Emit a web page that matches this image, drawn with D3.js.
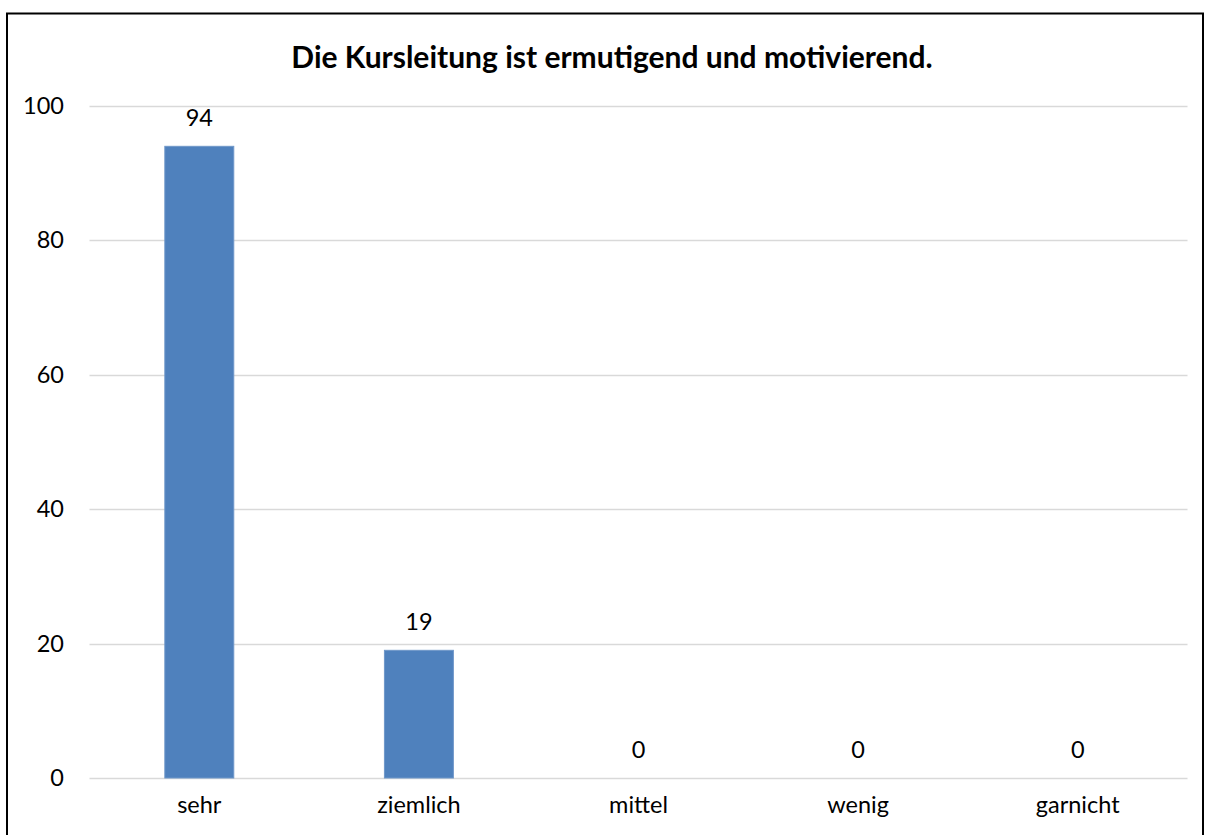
<!DOCTYPE html>
<html>
<head>
<meta charset="utf-8">
<script src="https://cdn.jsdelivr.net/npm/d3@7"></script>
<style>
  body { margin: 0; background: #fff; overflow: hidden; }
  text { font-family: Lato, "Open Sans", sans-serif; fill: #000; }
</style>
</head>
<body>
<script>
var title = "Die Kursleitung ist ermutigend und motivierend.";
var categories = ["sehr", "ziemlich", "mittel", "wenig", "garnicht"];
var counts = [94, 19, 0, 0, 0];
var yTicks = [0, 20, 40, 60, 80, 100];

var width = 1205,
    height = 835,
    plotLeft = 89.5,
    plotRight = 1187.5,
    plotTop = 106,
    plotBottom = 778,
    labelSize = 23.5;

var svg = d3.select("body").append("svg")
    .attr("width", width)
    .attr("height", height);

// frame
svg.append("rect")
    .attr("x", 7)
    .attr("y", 13.5)
    .attr("width", 1196)
    .attr("height", 840)
    .attr("fill", "none")
    .attr("stroke", "#000")
    .attr("stroke-width", 2);

var x = d3.scaleBand()
    .domain(categories)
    .range([plotLeft, plotRight])
    .paddingInner(0.686)
    .paddingOuter(0.343);

var y = d3.scaleLinear()
    .domain([0, 100])
    .range([plotBottom, plotTop]);

// gridlines
svg.append("g")
    .selectAll("line")
    .data(yTicks)
    .enter().append("line")
    .attr("x1", plotLeft)
    .attr("x2", plotRight)
    .attr("y1", function (d) { return Math.round(y(d)) + 0.5; })
    .attr("y2", function (d) { return Math.round(y(d)) + 0.5; })
    .attr("stroke", "#d9d9d9")
    .attr("stroke-width", 1.5);

// y axis labels
var yAxis = d3.axisLeft(y).tickValues(yTicks).tickSize(0).tickPadding(0);
var ga = svg.append("g")
    .attr("transform", "translate(64,0)")
    .call(yAxis);
ga.select(".domain").remove();
ga.selectAll("text")
    .attr("font-size", labelSize)
    .attr("font-family", "Lato, 'Open Sans', sans-serif")
    .attr("fill", "#000");

// bars
svg.append("g")
    .selectAll("rect")
    .data(counts)
    .enter().append("rect")
    .attr("x", function (d, i) { return x(categories[i]); })
    .attr("width", x.bandwidth())
    .attr("y", function (d) { return y(d); })
    .attr("height", function (d) { return y(0) - y(d); })
    .attr("fill", "#4f81bd")
    .attr("stroke", "#6f97c9")
    .attr("stroke-width", 1);

// data labels
svg.append("g")
    .selectAll("text")
    .data(counts)
    .enter().append("text")
    .attr("x", function (d, i) { return x(categories[i]) + x.bandwidth() / 2; })
    .attr("y", function (d) { return y(d) - 20; })
    .attr("text-anchor", "middle")
    .attr("font-size", labelSize)
    .text(function (d) { return d; });

// category labels
var xAxis = d3.axisBottom(x).tickSize(0).tickPadding(0);
var gx = svg.append("g")
    .attr("transform", "translate(0," + (plotBottom + 18) + ")")
    .call(xAxis);
gx.select(".domain").remove();
gx.selectAll("text")
    .attr("font-size", labelSize)
    .attr("font-family", "Lato, 'Open Sans', sans-serif")
    .attr("fill", "#000");

// title
svg.append("text")
    .attr("x", 612)
    .attr("y", 68)
    .attr("text-anchor", "middle")
    .attr("font-size", 30)
    .attr("font-weight", "bold")
    .text(title);
</script>
</body>
</html>
